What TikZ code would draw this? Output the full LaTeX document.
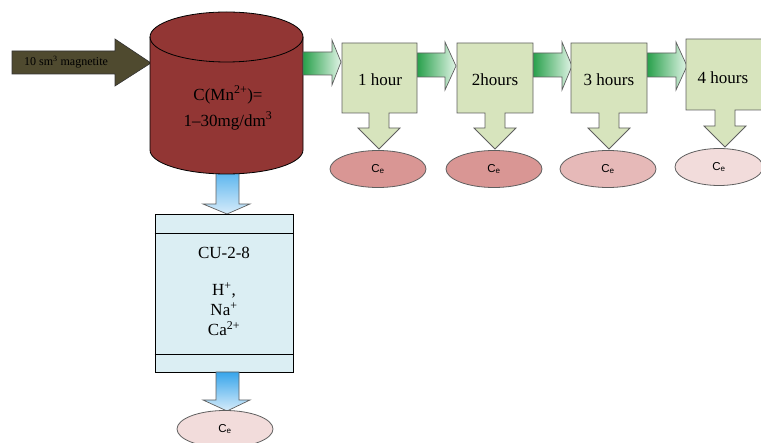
\documentclass[tikz,border=0pt]{standalone}
\usepackage{fontspec}
\setmainfont{Liberation Serif}
\setsansfont{Liberation Sans}
\usetikzlibrary{shapes.geometric}
\definecolor{darkarrow}{RGB}{79,74,47}
\definecolor{cylred}{RGB}{146,54,52}
\definecolor{boxgreen}{RGB}{215,228,189}
\definecolor{cublue}{RGB}{219,238,243}
\definecolor{pinkA}{RGB}{217,150,148}
\definecolor{pinkB}{RGB}{230,185,184}
\definecolor{pinkC}{RGB}{242,220,219}
\definecolor{gdark}{RGB}{40,160,75}
\definecolor{glight}{RGB}{225,244,230}
\definecolor{bdark}{RGB}{55,165,235}
\definecolor{blight}{RGB}{215,236,250}
\definecolor{edgegray}{RGB}{95,95,95}
\newcommand\callbox[6]{%
  \draw[hourbox] (#1,-#3) -- (#2,-#3) -- (#2,-#4) -- ({#5+10},-#4) -- ({#5+10},{-(#6-21)})
   -- ({#5+21},{-(#6-21)}) -- (#5,-#6) -- ({#5-21},{-(#6-21)}) -- ({#5-10},{-(#6-21)})
   -- ({#5-10},-#4) -- (#1,-#4) -- cycle;}
\newcommand\garrow[8]{%
  \draw[garrowstyle] (#1,-#4) -- (#2,-#4) -- (#2,-#6) -- (#3,-#8) -- (#2,-#7) -- (#2,-#5) -- (#1,-#5) -- cycle;}
\begin{document}
\begin{tikzpicture}[x=1pt,y=1pt,
  maintext/.style={font=\fontsize{17}{20}\selectfont, align=center, inner sep=0pt},
  hourbox/.style={draw=edgegray, fill=boxgreen, line width=0.8pt},
  garrowstyle/.style={draw=edgegray, line width=0.7pt, left color=gdark, right color=glight},
  cestyle/.style={ellipse, draw=edgegray, line width=0.8pt, minimum width=96pt, minimum height=37pt, inner sep=0pt, font=\sffamily\fontsize{11.5}{13}\selectfont},
  barrowstyle/.style={draw=edgegray, line width=0.7pt, left color=bdark, right color=blight, shading angle=0}
]
\useasboundingbox (0,0) rectangle (761,-443);

% input arrow
\draw[fill=darkarrow, draw=black!80, line width=0.6pt] (12,-51) -- (115,-51) -- (115,-39) -- (151,-63) -- (115,-86) -- (115,-74) -- (12,-74) -- cycle;
\node[font=\fontsize{12}{13}\selectfont, inner sep=0pt] (mag) at (66,-62) {10 sm\textsuperscript{3} magnetite};

% blue arrow down from cylinder
\draw[barrowstyle] (216,-160) -- (239,-160) -- (239,-204) -- (250,-204) -- (227,-214) -- (203,-204) -- (216,-204) -- cycle;

% cylinder
\fill[cylred] (150,-37) -- (150,-150) arc[start angle=180, end angle=360, x radius=76.5pt, y radius=24pt] -- (303,-37) arc[start angle=0, end angle=180, x radius=76.5pt, y radius=25pt] -- cycle;
\draw[line width=0.8pt] (150,-37) -- (150,-150) arc[start angle=180, end angle=360, x radius=76.5pt, y radius=24pt] -- (303,-37);
\draw[line width=0.8pt] (226.5,-37) ellipse [x radius=76.5pt, y radius=25pt];
\node[maintext] (conc) at (228,-108) {C(Mn\textsuperscript{2+})=\\[6pt] 1--30mg/dm\textsuperscript{3}};

% green arrows
\garrow{303}{332}{341}{52}{75}{40}{85}{62}
\garrow{417}{445}{456}{53}{77}{42}{90}{66}
\garrow{533}{562}{572}{53}{77}{42}{90}{66}
\garrow{647}{676}{687}{53}{77}{42}{90}{66}

% hour boxes with down arrows
\callbox{342}{417}{43}{113}{379}{149}
\callbox{457}{533}{43}{113}{495}{149}
\callbox{571}{647}{43}{113}{609}{149}
\callbox{686}{775}{39}{110}{725}{147}

\node[maintext] (h1) at (380,-80) {1 hour};
\node[maintext] (h2) at (495,-80) {2hours};
\node[maintext] (h3) at (609,-80) {3 hours};
\node[maintext] (h4) at (723,-78) {4 hours};

% Ce ellipses
\node[cestyle, fill=pinkA] (e1) at (378,-169) {C\textsubscript{e}};
\node[cestyle, fill=pinkA] (e2) at (494,-169) {C\textsubscript{e}};
\node[cestyle, fill=pinkB] (e3) at (608,-169) {C\textsubscript{e}};
\node[cestyle, fill=pinkC, minimum width=88pt] (e4) at (719,-167) {C\textsubscript{e}};

% CU box
\node[draw=black, line width=0.8pt, fill=cublue, minimum width=138pt, minimum height=158pt, inner sep=0pt] (cu) at (224,-293) {};
\draw[line width=0.8pt] (cu.west |- 0,-233) -- (cu.east |- 0,-233);
\draw[line width=0.8pt] (cu.west |- 0,-354) -- (cu.east |- 0,-354);
\node[maintext] (cuname) at (224,-253) {CU-2-8};
\node[maintext] (ions) at (224,-309) {H\textsuperscript{+},\\Na\textsuperscript{+}\\Ca\textsuperscript{2+}};

% blue arrow down from CU box
\draw[barrowstyle] (216,-372) -- (239,-372) -- (239,-400) -- (250,-400) -- (227,-411) -- (203,-400) -- (216,-400) -- cycle;

\node[cestyle, fill=pinkC] (e5) at (225,-429) {C\textsubscript{e}};
\end{tikzpicture}
\end{document}
